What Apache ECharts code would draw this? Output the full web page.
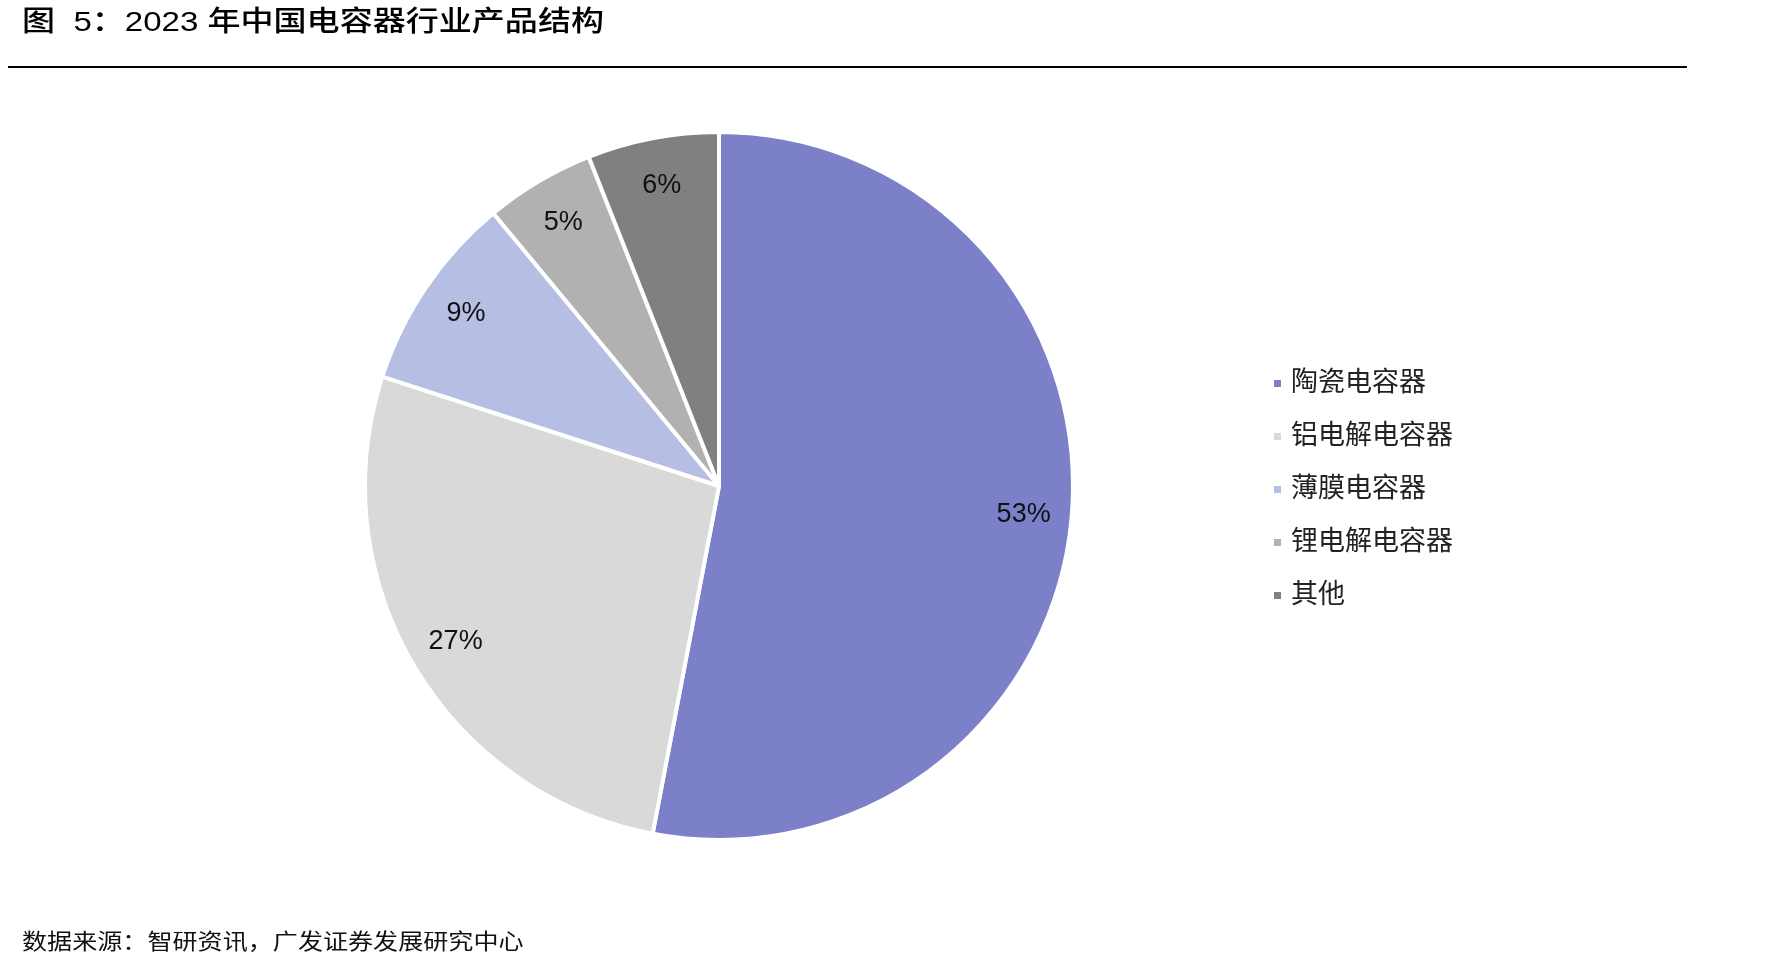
<!DOCTYPE html>
<html>
<head>
<meta charset="utf-8">
<title>2023年中国电容器行业产品结构</title>
<script src="https://cdn.jsdelivr.net/npm/echarts@6/dist/echarts.min.js"></script>
<style>
  html, body { margin: 0; padding: 0; background: #fff; }
  #main { width: 1790px; height: 973px; }
</style>
</head>
<body>
<div id="main"></div>
<script>
// 产品类别与占比（%）
const categories = ['陶瓷电容器', '铝电解电容器', '薄膜电容器', '锂电解电容器', '其他']
const shares = [53, 27, 9, 5, 6]
const colors = ['#7c80c8', '#d9d9d9', '#b6bee4', '#b1b1b1', '#808080']

const titleText = '图  5：2023 年中国电容器行业产品结构'
const sourceText = '数据来源：智研资讯，广发证券发展研究中心'

const font = '"Liberation Sans", "Noto Sans CJK SC", sans-serif'

const pieData = categories.map((name, i) => ({
  name: name,
  value: shares[i],
  itemStyle: { color: colors[i] }
}))

let chart = echarts.init(document.getElementById('main'))

let option = {
  animation: false,
  textStyle: { fontFamily: font },
  graphic: [
    {
      // 标题（原图字形偏宽，横向拉伸一点）
      type: 'text',
      x: 22,
      y: 23,
      scaleX: 1.18,
      style: {
        text: titleText,
        font: '500 28px ' + font,
        fill: '#000',
        textVerticalAlign: 'middle'
      }
    },
    {
      type: 'line',
      shape: { x1: 8, y1: 67, x2: 1687, y2: 67 },
      style: { stroke: '#000', lineWidth: 2 }
    },
    {
      type: 'text',
      x: 22,
      y: 943,
      scaleX: 1.14,
      style: {
        text: sourceText,
        font: '22px ' + font,
        fill: '#111',
        textVerticalAlign: 'middle'
      }
    }
  ],
  legend: {
    orient: 'vertical',
    left: 1267,
    top: 365,
    icon: 'rect',
    itemWidth: 9,
    itemHeight: 9,
    itemGap: 26,
    data: categories,
    textStyle: { fontSize: 27, lineHeight: 27, color: '#222', fontFamily: font, padding: [0, 0, 0, 4] }
  },
  series: [
    {
      name: '产品结构',
      type: 'pie',
      center: [719, 486],
      radius: [0, 354],
      startAngle: 90,
      clockwise: true,
      silent: true,
      label: { show: false },
      labelLine: { show: false },
      itemStyle: { borderColor: '#fff', borderWidth: 4 },
      data: pieData
    },
    {
      // 透明环，仅用于把百分比标签放在靠近外缘的位置
      name: '标签',
      type: 'pie',
      center: [719, 486],
      radius: [252, 354],
      startAngle: 90,
      clockwise: true,
      silent: true,
      legendHoverLink: false,
      itemStyle: { color: 'rgba(0,0,0,0)' },
      label: {
        show: true,
        position: 'inside',
        formatter: '{c}%',
        fontSize: 27,
        color: '#111',
        fontFamily: font
      },
      labelLine: { show: false },
      data: categories.map((name, i) => ({ name: name + ' ', value: shares[i] }))
    }
  ]
}

chart.setOption(option)
</script>
</body>
</html>
